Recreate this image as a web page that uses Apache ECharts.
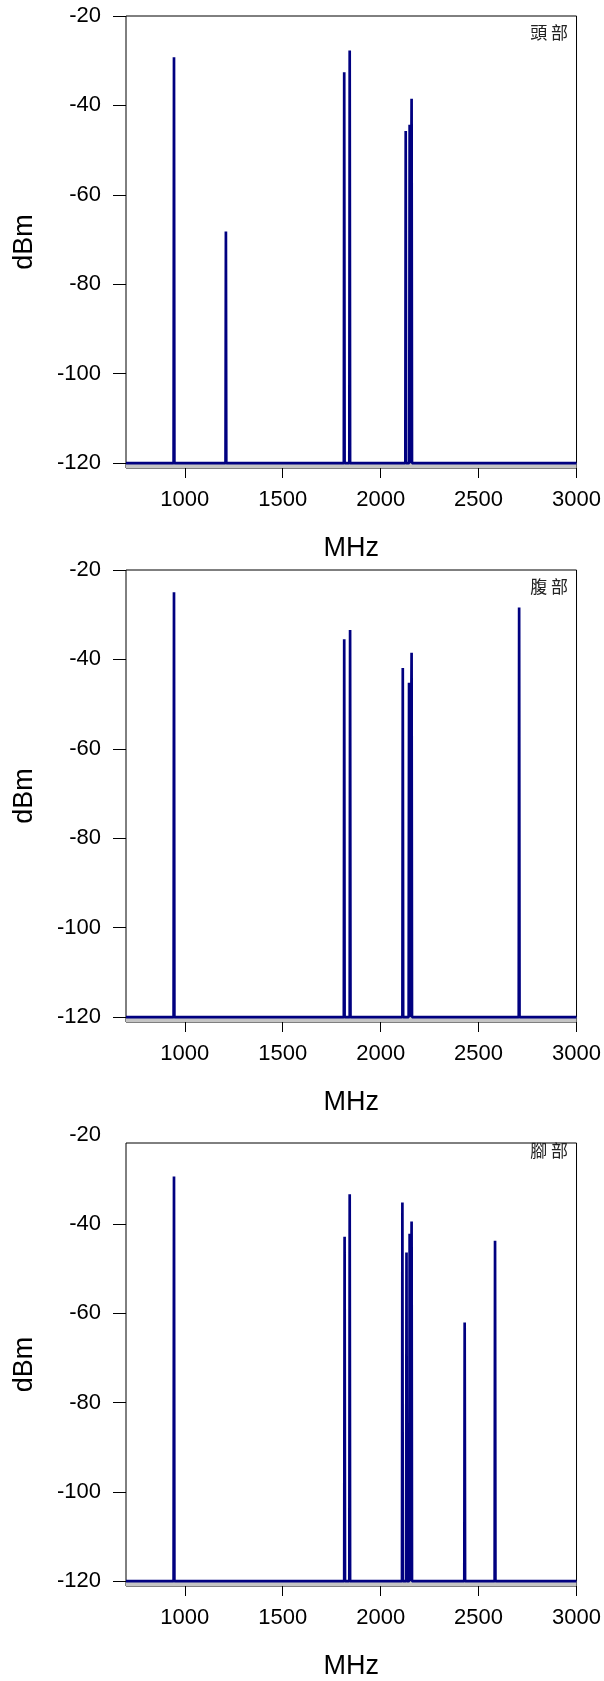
<!DOCTYPE html>
<html lang="zh-Hant">
<head>
	<meta charset="UTF-8">
	<title>頭部 / 腹部 / 腳部 spectrum</title>
	<style>
		html, body{
			margin: 0;
			padding: 0;
			background: #fff;
		}
		#main{
			width: 604px;
			height: 1681px;
		}
	</style>
	<script src="https://cdn.jsdelivr.net/npm/echarts@6/dist/echarts.min.js"></script>
</head>
<body>
<div id="main"></div>
<script>
	// axis ticks
	var freqTicks = [1000, 1500, 2000, 2500, 3000];
	var dbmTicks = [-120, -100, -80, -60, -40, -20];
	var floorDbm = -120;

	// peaks (MHz, dBm)
	var headFreq = [945, 1210, 1814, 1842, 2128, 2148, 2158];
	var headDbm = [-29.2, -68.2, -32.6, -27.7, -45.7, -44.3, -38.5];

	var bellyFreq = [945, 1814, 1844, 2113, 2145, 2158, 2707];
	var bellyDbm = [-25.0, -35.5, -33.4, -41.9, -45.2, -38.5, -28.4];

	var footFreq = [945, 1816, 1842, 2111, 2132, 2148, 2158, 2429, 2584];
	var footDbm = [-29.4, -42.9, -33.4, -35.2, -46.4, -42.2, -39.5, -62.1, -43.8];

	var panelNames = ['頭 部', '腹 部', '腳 部'];

	var font = "'Liberation Sans', Arial, sans-serif";
	var navy = '#000080';

	// spike trace: flat floor with a narrow peak at every frequency
	function trace(freq, dbm){
		var pts = [[700, floorDbm]];
		for (var i = 0; i < freq.length; i++) {
			pts.push([freq[i] - 2, floorDbm]);
			pts.push([freq[i], dbm[i]]);
			pts.push([freq[i] + 2, floorDbm]);
		}
		pts.push([3000, floorDbm]);
		return pts;
	}

	var grids = [
		{left: 126, width: 453, top: 16, height: 452, yMax: -20, labelY: 34},
		{left: 126, width: 453, top: 570, height: 452, yMax: -20, labelY: 588},
		{left: 126, width: 453, top: 1143, height: 443, yMax: -21.9, labelY: 1152}
	];
	var traces = [trace(headFreq, headDbm), trace(bellyFreq, bellyDbm), trace(footFreq, footDbm)];

	var plain = function(v){ return String(v); };

	var option = {
		animation: false,
		grid: [], xAxis: [], yAxis: [], series: [], graphic: []
	};

	grids.forEach(function(g, i){
		option.grid.push({
			left: g.left, width: g.width, top: g.top, height: g.height,
			show: true, borderColor: '#000', borderWidth: 1, backgroundColor: '#fff'
		});
		option.xAxis.push({
			type: 'value', gridIndex: i, min: 700, max: 3000,
			name: 'MHz', nameLocation: 'middle', nameGap: 67,
			nameTextStyle: {fontFamily: font, fontSize: 27, color: '#000'},
			axisLine: {show: false},
			splitLine: {show: false},
			axisTick: {show: true, inside: false, length: 10, customValues: freqTicks,
				lineStyle: {color: '#000', width: 1}},
			axisLabel: {customValues: freqTicks, margin: 21, fontFamily: font, fontSize: 22, color: '#000',
				formatter: plain, showMinLabel: true, showMaxLabel: true}
		});
		var ticks = dbmTicks.filter(function(v){ return v <= g.yMax; });
		option.yAxis.push({
			type: 'value', gridIndex: i, min: -121.1, max: g.yMax,
			name: 'dBm', nameLocation: 'middle', nameGap: 88, nameRotate: 90,
			nameTextStyle: {fontFamily: font, fontSize: 27, color: '#000'},
			axisLine: {show: false},
			splitLine: {show: false},
			axisTick: {show: true, inside: false, length: 13, customValues: ticks,
				lineStyle: {color: '#000', width: 1}},
			axisLabel: {customValues: ticks, margin: 25, fontFamily: font, fontSize: 22, color: '#000',
				formatter: plain}
		});
		option.series.push({
			type: 'line', xAxisIndex: i, yAxisIndex: i,
			data: traces[i], symbol: 'none',
			lineStyle: {color: navy, width: 2.7},
			markArea: {
				silent: true,
				itemStyle: {color: '#c4c4c4'},
				data: [[{yAxis: -121.1}, {yAxis: floorDbm}]]
			}
		});
		option.graphic.push({
			type: 'text', right: 604 - 568, top: g.labelY - 10,
			style: {text: panelNames[i], font: "17px 'Noto Sans CJK TC'", fill: '#222'}
		});
	});

	var myChart = echarts.init(document.getElementById('main'));
	myChart.setOption(option);

	// third panel keeps its -20 label just above the frame
	var y20 = myChart.convertToPixel({yAxisIndex: 2}, -20);
	option.graphic.push({
		type: 'text', x: 101, y: y20,
		style: {text: '-20', font: "22px " + font, fill: '#000', align: 'right', verticalAlign: 'middle'}
	});
	myChart.setOption({graphic: option.graphic});
</script>
</body>
</html>
